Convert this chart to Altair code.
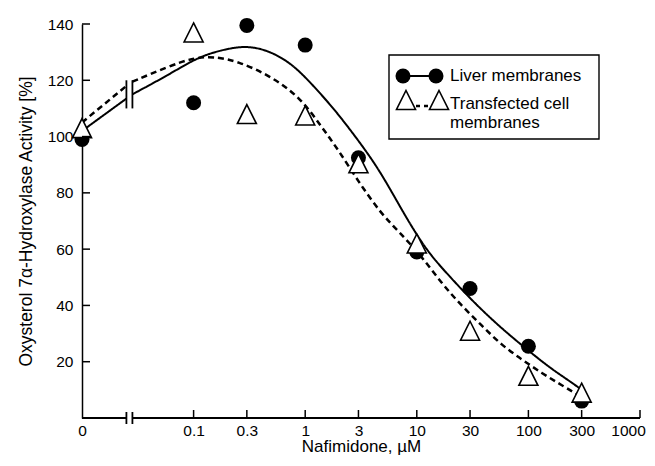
import altair as alt
import pandas as pd

# ---------------- data ----------------
series_names = ["Liver membranes", "Transfected cell membranes"]
legend_lines = ["Liver membranes", "Transfected cell", "membranes"]

doses = [0, 0.1, 0.3, 1, 3, 10, 30, 100, 300]          # µM (0 = control)
liver = [99, 112, 139.5, 132.5, 92.5, 59, 46, 25.5, 6]
transfected = [103, 137, 108, 107.5, 90.5, 62, 31, 15, 9]

# fitted curves
solid_x = [0, 0.025, 0.0283, 0.06, 0.1, 0.15, 0.25, 0.35, 0.5, 0.75, 1.1, 1.8, 2.7, 4.5, 7.2, 10, 13.5, 20, 30, 47, 70, 107, 160, 245, 300]
solid_y = [102, 113.5, 115, 122, 127.3, 130, 132, 131.8, 130, 126, 119.5, 110, 101, 89, 74.5, 65, 57.5, 50, 42.5, 35, 29, 23, 17.5, 12.6, 10]
dash_x = [0, 0.025, 0.0283, 0.06, 0.1, 0.15, 0.25, 0.49, 0.9, 1.4, 2.0, 3.0, 4.8, 7.2, 11, 16.6, 25, 38, 57, 86, 131, 200, 300]
dash_y = [105, 118, 119.5, 125, 128, 128.5, 126.8, 121.5, 114, 103.5, 95, 84, 72.5, 65.5, 57.5, 48, 40, 33, 26, 21, 16, 11.6, 7.4]

x_label_values = [0, 0.1, 0.3, 1, 3, 10, 30, 100, 300, 1000]
x_tick_values = [0.1, 0.3, 1, 3, 10, 30, 100, 300, 1000]
y_tick_values = [20, 40, 60, 80, 100, 120, 140]

ZERO_AT = 0.01            # where "0" sits on the log axis
axis_break = [0.025, 0.0283]
curve_break_y = [110, 120]

# ---------------- frames ----------------
def pos(v):
    return ZERO_AT if v == 0 else v

pts = pd.DataFrame({
    "x": [pos(d) for d in doses] * 2,
    "y": liver + transfected,
    "series": [series_names[0]] * len(doses) + [series_names[1]] * len(doses),
})
curves = pd.DataFrame({
    "x": [pos(v) for v in solid_x] + [pos(v) for v in dash_x],
    "y": solid_y + dash_y,
    "series": [series_names[0]] * len(solid_x) + [series_names[1]] * len(dash_x),
})
curves["seg"] = (curves["x"] > axis_break[0]).astype(int)

xticks = pd.DataFrame({"x": x_tick_values})
yticks = pd.DataFrame({"y": y_tick_values})
axis_segs = pd.DataFrame({"x": [ZERO_AT, axis_break[1]], "x2": [axis_break[0], 1000]})
breaks = pd.DataFrame({"x": axis_break})
curve_breaks = pd.DataFrame({"x": axis_break, "y": [curve_break_y[0]] * 2, "y2": [curve_break_y[1]] * 2})

W, H = 558, 394
FONT = "Liberation Sans"
TRI = "M0,-1L1,1L-1,1Z"

xscale = alt.Scale(type="log", domain=[ZERO_AT, 1000])
yscale = alt.Scale(domain=[0, 140])

xaxis = alt.Axis(
    values=[pos(v) for v in x_label_values],
    labelExpr="datum.value < 0.05 ? '0' : format(datum.value, '~g')",
    labelOffset={"condition": {"test": "datum.value > 500", "value": -12}, "value": 0},
    ticks=False, tickSize=0, domain=False, grid=False,
    labelPadding=5, labelFontSize=15.5, labelFont=FONT, labelColor="black",
    labelFlush=False, labelOverlap=False,
    title="Nafimidone, \u00b5M", titleFont=FONT, titleFontSize=17,
    titleFontWeight="normal", titlePadding=0, titleColor="black",
)
yaxis = alt.Axis(
    values=y_tick_values, ticks=False, tickSize=0, grid=False,
    domain=True, domainColor="black", domainWidth=1.5,
    labelPadding=9, labelFontSize=15.5, labelFont=FONT, labelColor="black",
    title="Oxysterol 7\u03b1-Hydroxylase Activity [%]", titleFont=FONT,
    titleFontSize=17.5, titleFontWeight="normal", titlePadding=12, titleColor="black",
)

X = alt.X("x:Q", scale=xscale, axis=xaxis)
Y = alt.Y("y:Q", scale=yscale, axis=yaxis)

lines = alt.Chart(curves).mark_line(color="black", interpolate="basis").encode(
    x=X, y=Y, detail="seg:N",
    strokeDash=alt.StrokeDash("series:N", scale=alt.Scale(domain=series_names, range=[[1, 0], [6, 4]]), legend=None),
    strokeWidth=alt.StrokeWidth("series:N", scale=alt.Scale(domain=series_names, range=[2, 2.5]), legend=None),
)

circles = alt.Chart(pts).transform_filter(
    alt.datum.series == series_names[0]
).mark_point(shape="circle", size=225, filled=True, color="black", opacity=1).encode(x=X, y=Y)

triangles = alt.Chart(pts).transform_filter(
    alt.datum.series == series_names[1]
).mark_point(shape=TRI, size=361, fill="white", stroke="black",
             strokeWidth=1.6, opacity=1).encode(x=X, y=Y)

xtick_layer = alt.Chart(xticks).mark_rule(color="black", strokeWidth=1.5).encode(
    x=X, y=alt.value(H), y2=alt.value(H - 8))
ytick_layer = alt.Chart(yticks).mark_rule(color="black", strokeWidth=1.5).encode(
    y=Y, x=alt.value(0), x2=alt.value(8))
xaxis_line = alt.Chart(axis_segs).mark_rule(color="black", strokeWidth=1.8).encode(
    x=X, x2="x2:Q", y=alt.value(H))
axis_break_marks = alt.Chart(breaks).mark_rule(color="black", strokeWidth=1.8).encode(
    x=X, y=alt.value(H - 6), y2=alt.value(H + 6))
curve_break_marks = alt.Chart(curve_breaks).mark_rule(color="black", strokeWidth=1.8).encode(
    x=X, y=Y, y2="y2:Q")

# ---------------- legend (drawn as a boxed key) ----------------
one = pd.DataFrame({"k": [0]})
leg_box = alt.Chart(one).mark_rect(fill="white", stroke="black", strokeWidth=1.4).encode(
    x=alt.value(307), x2=alt.value(517), y=alt.value(31), y2=alt.value(115))
leg_line1 = alt.Chart(one).mark_rule(color="black", strokeWidth=2).encode(
    x=alt.value(321), x2=alt.value(354), y=alt.value(52))
leg_c1 = alt.Chart(one).mark_point(shape="circle", size=225, filled=True, color="black", opacity=1).encode(
    x=alt.value(321), y=alt.value(52))
leg_c2 = alt.Chart(one).mark_point(shape="circle", size=225, filled=True, color="black", opacity=1).encode(
    x=alt.value(354), y=alt.value(52))
leg_line2 = alt.Chart(one).mark_rule(color="black", strokeWidth=2.5, strokeDash=[4, 4]).encode(
    x=alt.value(334), x2=alt.value(346), y=alt.value(82))
leg_t1 = alt.Chart(one).mark_point(shape=TRI, size=361, fill="white", stroke="black", strokeWidth=1.6, opacity=1).encode(
    x=alt.value(324), y=alt.value(76))
leg_t2 = alt.Chart(one).mark_point(shape=TRI, size=361, fill="white", stroke="black", strokeWidth=1.6, opacity=1).encode(
    x=alt.value(357), y=alt.value(76))

def leg_text(s, y):
    return alt.Chart(pd.DataFrame({"t": [s]})).mark_text(
        align="left", baseline="middle", font=FONT, fontSize=17, color="black"
    ).encode(text="t:N", x=alt.value(368), y=alt.value(y))

leg_texts = [leg_text(legend_lines[0], 52), leg_text(legend_lines[1], 80), leg_text(legend_lines[2], 99)]

chart = alt.layer(
    lines, curve_break_marks, circles, triangles,
    xtick_layer, ytick_layer, xaxis_line, axis_break_marks,
    leg_box, leg_line1, leg_c1, leg_c2, leg_line2, leg_t1, leg_t2, *leg_texts,
).properties(
    width=W, height=H,
    autosize=alt.AutoSizeParams(type="none"),
    padding={"left": 74, "top": 16, "right": 7, "bottom": 38},
).configure(background="white").configure_view(stroke=None)

chart.save("out.html", embed_options={"renderer": "svg", "actions": False})
